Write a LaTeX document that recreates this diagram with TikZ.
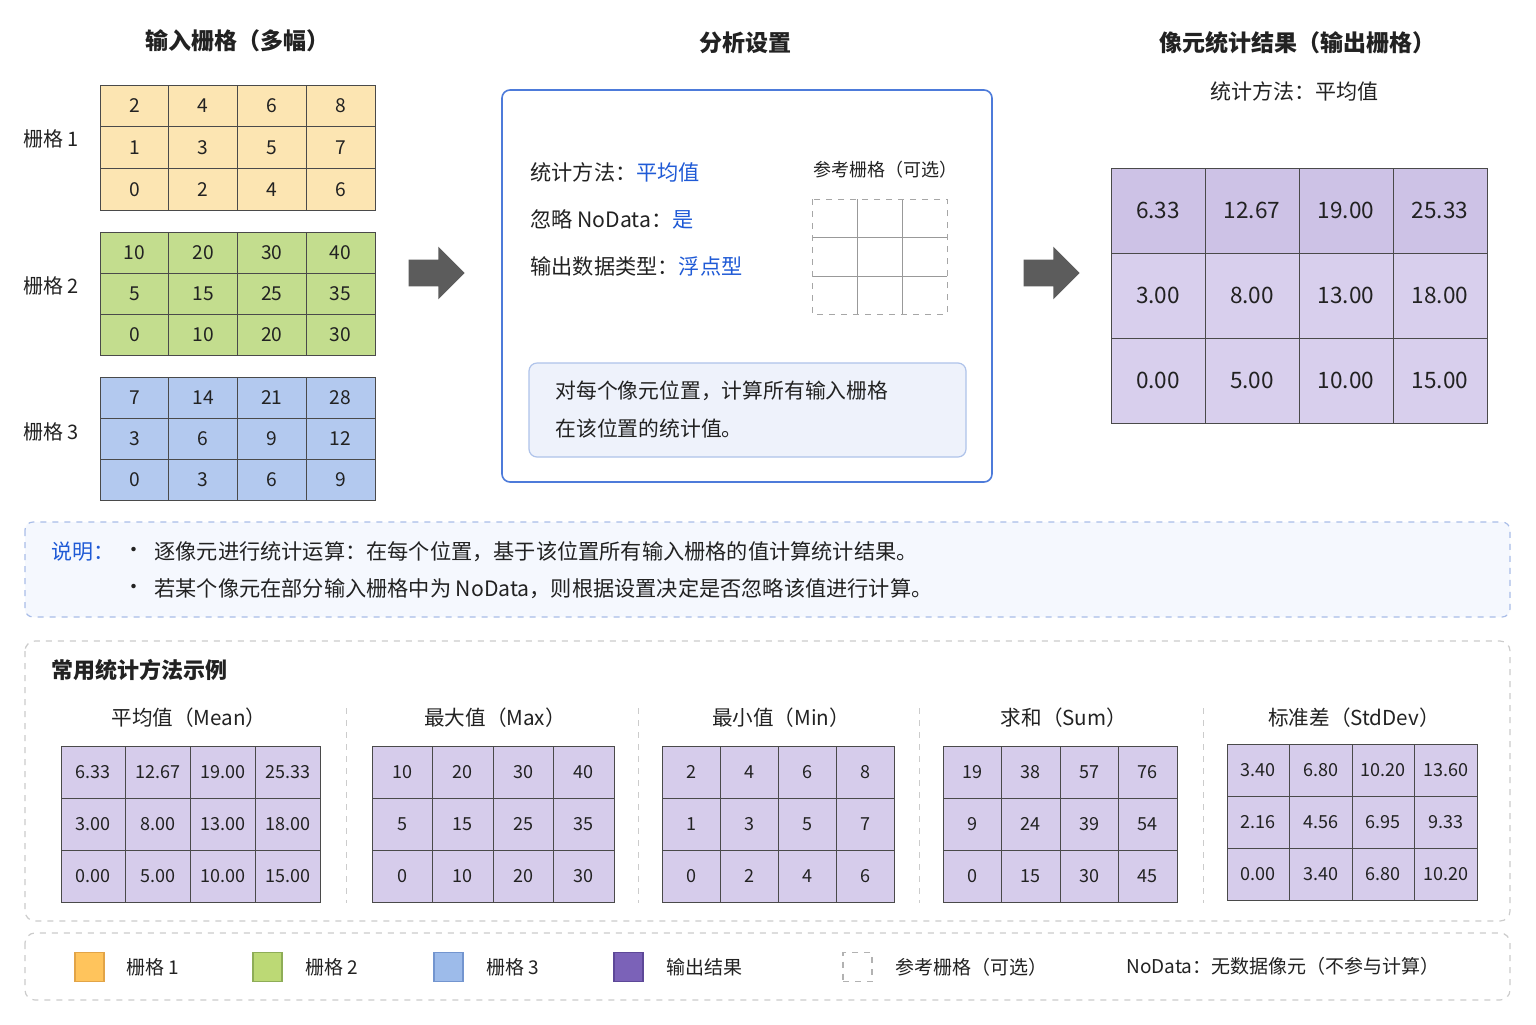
\documentclass[tikz,border=0pt]{standalone}
\usepackage{fontspec}
\setmainfont{Noto Sans CJK SC}
\usetikzlibrary{shapes.arrows}
\definecolor{txt}{HTML}{222222}
\definecolor{blu}{HTML}{1F5AD6}
\definecolor{cellline}{HTML}{4A4A4A}
\definecolor{gA}{HTML}{FCE5B2}
\definecolor{gB}{HTML}{C3DD8E}
\definecolor{gC}{HTML}{B3C9EF}
\definecolor{outA}{HTML}{CDC2E6}
\definecolor{outB}{HTML}{D8CFED}
\definecolor{exF}{HTML}{D6CCEB}
\definecolor{arrowgray}{HTML}{5C5C5C}
\definecolor{boxblue}{HTML}{4D7BDA}
\definecolor{innerfill}{HTML}{EEF2FB}
\definecolor{innerline}{HTML}{AFC3EA}
\definecolor{notefill}{HTML}{F5F8FE}
\definecolor{noteline}{HTML}{A9BDE8}
\definecolor{dashgray}{HTML}{CCCCCC}
\definecolor{lgA}{HTML}{FFC45C}
\definecolor{lgAl}{HTML}{E2A447}
\definecolor{lgB}{HTML}{BCD975}
\definecolor{lgBl}{HTML}{8EAD57}
\definecolor{lgC}{HTML}{9DBBEA}
\definecolor{lgCl}{HTML}{7395CF}
\definecolor{lgD}{HTML}{7B62B8}
\definecolor{lgDl}{HTML}{5D4898}
\newcommand\rastergrid[7]{%
  \foreach \rowvals [count=\ri] in {#7} {
    \foreach \v [count=\ci] in \rowvals {
      \node[#6, minimum width=#4*0.5pt, minimum height=#5*0.5pt]
        (#1-\ri-\ci) at ({#2+(\ci-0.5)*#4},{#3+(\ri-0.5)*#5}) {\v};
    }
  }%
}
\begin{document}
\begin{tikzpicture}[x=0.5pt,y=-0.5pt,
  every node/.style={text=txt},
  cell/.style={draw=cellline, line width=0.5pt, inner sep=0pt, font=\fontsize{9.6pt}{11pt}\selectfont},
  outcell/.style={draw=cellline, line width=0.5pt, inner sep=0pt, font=\fontsize{11.3pt}{13pt}\selectfont},
  excell/.style={draw=cellline, line width=0.5pt, inner sep=0pt, fill=exF, font=\fontsize{9pt}{11pt}\selectfont},
  title/.style={font=\fontsize{11.5pt}{14pt}\selectfont\bfseries},
  lbl/.style={font=\fontsize{10pt}{12pt}\selectfont},
  setl/.style={anchor=west, inner sep=0pt, font=\fontsize{10.6pt}{13pt}\selectfont},
  extitle/.style={font=\fontsize{10.3pt}{12pt}\selectfont},
  legtxt/.style={anchor=west, inner sep=0pt, font=\fontsize{9.5pt}{12pt}\selectfont},
  bigarrow/.style={single arrow, fill=arrowgray, draw=none, minimum height=28pt,
    inner sep=6.5pt, single arrow head extend=6.5pt, shape border rotate=0},
  swatch/.style={minimum width=14.5pt, minimum height=14.5pt, inner sep=0pt, line width=0.6pt},
  sepline/.style={draw=dashgray, dashed, line width=0.5pt}
]
\useasboundingbox (0,0) rectangle (1536,1024);
\fill[white] (0,0) rectangle (1536,1024);

% ---------- titles ----------
\node[title] (t1) at (237,41) {输入栅格（多幅）};
\node[title] (t2) at (745,43) {分析设置};
\node[title] (t3) at (1297,43) {像元统计结果（输出栅格）};
\node[font=\fontsize{10.5pt}{13pt}\selectfont] (t3sub) at (1294,91) {统计方法：平均值};

% ---------- input grids ----------
\node[lbl] (l1) at (51,139) {栅格 1};
\node[lbl] (l2) at (51,286) {栅格 2};
\node[lbl] (l3) at (51,432) {栅格 3};
\rastergrid{ga}{100}{85}{68.75}{41.67}{cell, fill=gA}{{2,4,6,8},{1,3,5,7},{0,2,4,6}}
\rastergrid{gb}{100}{232}{68.75}{41}{cell, fill=gB}{{10,20,30,40},{5,15,25,35},{0,10,20,30}}
\rastergrid{gc}{100}{377}{68.75}{41}{cell, fill=gC}{{7,14,21,28},{3,6,9,12},{0,3,6,9}}

% ---------- arrows ----------
\node[bigarrow] (arr1) at (430,273) {};
\node[bigarrow] (arr2) at (1045,273) {};

% ---------- analysis box ----------
\draw[boxblue, line width=0.8pt, fill=white, rounded corners=4pt] (502,90) rectangle (992,482);
\node[setl] (s1) at (530,172) {统计方法：\textcolor{blu}{平均值}};
\node[setl] (s2) at (530,219) {忽略 NoData：\textcolor{blu}{是}};
\node[setl] (s3) at (530,266) {输出数据类型：\textcolor{blu}{浮点型}};
\node[font=\fontsize{9pt}{11pt}\selectfont] (reft) at (885,170) {参考栅格（可选）};
\draw[gray!80, line width=0.4pt] (857,199) -- (857,314) (902,199) -- (902,314)
  (812,237) -- (947,237) (812,276) -- (947,276);
\draw[gray!70, dashed, line width=0.5pt] (812,199) rectangle (947,314);
\draw[innerline, fill=innerfill, line width=0.6pt, rounded corners=4pt] (529,363) rectangle (966,457);
\node[anchor=west, inner sep=0pt, font=\fontsize{10.4pt}{13pt}\selectfont] (in1) at (555,391) {对每个像元位置，计算所有输入栅格};
\node[anchor=west, inner sep=0pt, font=\fontsize{10.4pt}{13pt}\selectfont] (in2) at (555,429) {在该位置的统计值。};

% ---------- output grid ----------
\rastergrid{go}{1111}{168}{94}{85}{outcell, fill=outA}{{6.33,12.67,19.00,25.33}}
\rastergrid{gp}{1111}{253}{94}{85}{outcell, fill=outB}{{3.00,8.00,13.00,18.00},{0.00,5.00,10.00,15.00}}

% ---------- note box ----------
\draw[noteline, dashed, fill=notefill, line width=0.6pt, rounded corners=4pt] (25,522) rectangle (1510,617);
\node[anchor=west, inner sep=0pt, text=blu, font=\fontsize{10.5pt}{13pt}\selectfont] (nt) at (51,552) {说明：};
\node[font=\fontsize{10.5pt}{13pt}\selectfont] (b1) at (134,552) {•};
\node[font=\fontsize{10.5pt}{13pt}\selectfont] (b2) at (134,589) {•};
\node[anchor=west, inner sep=0pt, font=\fontsize{10.6pt}{13pt}\selectfont] (n1) at (154,552) {逐像元进行统计运算：在每个位置，基于该位置所有输入栅格的值计算统计结果。};
\node[anchor=west, inner sep=0pt, font=\fontsize{10.6pt}{13pt}\selectfont] (n2) at (154,589) {若某个像元在部分输入栅格中为 NoData，则根据设置决定是否忽略该值进行计算。};

% ---------- examples box ----------
\draw[dashgray, dashed, line width=0.6pt, rounded corners=5pt] (25,641) rectangle (1510,921);
\node[anchor=west, inner sep=0pt, font=\fontsize{11pt}{13pt}\selectfont\bfseries] (ext) at (51,670) {常用统计方法示例};
\draw[sepline] (346,708) -- (346,903);
\draw[sepline] (638,708) -- (638,903);
\draw[sepline] (919,708) -- (919,903);
\draw[sepline] (1203,708) -- (1203,903);

\node[extitle] (e1t) at (189,718) {平均值（Mean）};
\rastergrid{ea}{61}{746}{64.75}{52}{excell}{{6.33,12.67,19.00,25.33},{3.00,8.00,13.00,18.00},{0.00,5.00,10.00,15.00}}
\node[extitle] (e2t) at (495,718) {最大值（Max）};
\rastergrid{eb}{372}{746}{60.5}{52}{excell}{{10,20,30,40},{5,15,25,35},{0,10,20,30}}
\node[extitle] (e3t) at (781,718) {最小值（Min）};
\rastergrid{ec}{662}{746}{58}{52}{excell}{{2,4,6,8},{1,3,5,7},{0,2,4,6}}
\node[extitle] (e4t) at (1064,718) {求和（Sum）};
\rastergrid{ed}{943}{746}{58.5}{52}{excell}{{19,38,57,76},{9,24,39,54},{0,15,30,45}}
\node[extitle] (e5t) at (1354,718) {标准差（StdDev）};
\rastergrid{ee}{1227}{744}{62.5}{52}{excell}{{3.40,6.80,10.20,13.60},{2.16,4.56,6.95,9.33},{0.00,3.40,6.80,10.20}}

% ---------- legend ----------
\draw[dashgray, dashed, line width=0.6pt, rounded corners=5pt] (25,933) rectangle (1510,1000);
\node[swatch, fill=lgA, draw=lgAl] (k1) at (89.5,967) {};
\node[legtxt] (k1t) at (126,967) {栅格 1};
\node[swatch, fill=lgB, draw=lgBl] (k2) at (267.5,967) {};
\node[legtxt] (k2t) at (305,967) {栅格 2};
\node[swatch, fill=lgC, draw=lgCl] (k3) at (448.5,967) {};
\node[legtxt] (k3t) at (486,967) {栅格 3};
\node[swatch, fill=lgD, draw=lgDl] (k4) at (628.5,967) {};
\node[legtxt] (k4t) at (666,967) {输出结果};
\node[swatch, fill=white, draw=gray!60, dashed] (k5) at (857.5,967) {};
\node[legtxt] (k5t) at (895,967) {参考栅格（可选）};
\node[legtxt] (k6t) at (1126,966) {NoData：无数据像元（不参与计算）};
\end{tikzpicture}
\end{document}
